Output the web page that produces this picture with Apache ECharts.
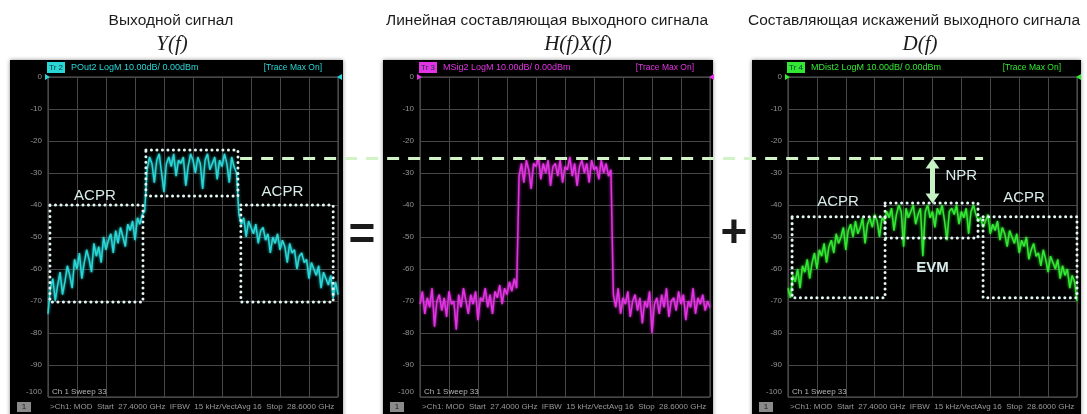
<!DOCTYPE html>
<html><head><meta charset="utf-8">
<script src="https://cdn.jsdelivr.net/npm/echarts@6/dist/echarts.min.js"></script>
<style>html,body{margin:0;padding:0;background:#fff}#c{width:1087px;height:414px}</style>
</head><body><div id="c"></div>
<script>
// ---------- text ----------
const panelTitles = ['Выходной сигнал', 'Линейная составляющая выходного сигнала', 'Составляющая искажений выходного сигнала'];
const panelFormulas = ['Y(f)', 'H(f)X(f)', 'D(f)'];
const traceTags = ['Tr 2', 'Tr 3', 'Tr 4'];
const traceLabels = ['POut2 LogM 10.00dB/ 0.00dBm', 'MSig2 LogM 10.00dB/ 0.00dBm', 'MDist2 LogM 10.00dB/ 0.00dBm'];
const traceMaxLabel = '[Trace Max On]';
const sweepLabel = 'Ch 1 Sweep 33';
const statusLabel = '>Ch1: MOD  Start  27.4000 GHz  IFBW  15 kHz/VectAvg 16  Stop  28.6000 GHz';
const yTicks = [0, -10, -20, -30, -40, -50, -60, -70, -80, -90, -100];

// ---------- trace values (dBm), 121 points across 27.4 … 28.6 GHz ----------
const yOutput = [
  -74,-66,-63,-70,-65,-61,-68,-64,-59,-62,-66,-57,-60,-55,-63,-58,-54,-57,-61,-52,-56,
  -53,-58,-50,-54,-51,-49,-55,-48,-52,-47,-50,-53,-46,-48,-45,-51,-44,-46,-43,-42,
  -29,-25,-27,-33,-26,-24,-30,-36,-27,-25,-28,-24,-31,-26,-27,-25,-34,-28,-24,-26,
  -30,-25,-27,-35,-26,-24,-29,-27,-25,-32,-26,-28,-24,-27,-33,-25,-28,-30,
  -43,-46,-44,-50,-45,-47,-49,-46,-52,-48,-47,-51,-49,-55,-50,-52,-49,-54,-51,-53,-58,
  -52,-55,-54,-60,-56,-55,-58,-57,-63,-58,-60,-62,-59,-66,-61,-63,-65,-62,-69,-64,-68
];
const yLinear = [
  -71,-67,-74,-69,-72,-66,-78,-70,-68,-73,-69,-75,-67,-71,-70,-79,-68,-72,-66,-70,-74,
  -68,-71,-67,-76,-69,-70,-66,-72,-68,-74,-67,-69,-65,-71,-66,-68,-64,-67,-63,-66,
  -31,-27,-33,-26,-29,-35,-27,-28,-25,-32,-27,-30,-26,-34,-28,-27,-31,-26,-33,-28,
  -29,-25,-31,-27,-34,-28,-26,-30,-27,-33,-26,-29,-28,-32,-26,-30,-27,-31,-29,
  -68,-72,-66,-74,-69,-71,-67,-75,-70,-68,-73,-69,-77,-70,-72,-67,-80,-71,-69,-74,
  -68,-72,-66,-75,-70,-69,-73,-67,-71,-68,-76,-70,-72,-66,-74,-69,-71,-68,-73,-70,-72
];
const yDistortion = [
  -66,-69,-62,-64,-60,-66,-59,-61,-57,-63,-58,-55,-60,-54,-56,-52,-58,-53,-51,-55,-49,
  -52,-50,-47,-54,-48,-46,-50,-45,-49,-47,-44,-52,-46,-44,-47,-43,-45,-50,-44,-45,
  -42,-44,-41,-48,-43,-40,-42,-53,-41,-44,-42,-40,-46,-43,-41,-56,-42,-40,-44,-42,
  -47,-41,-43,-40,-45,-51,-42,-41,-43,-40,-46,-42,-44,-41,-49,-42,-40,-43,-45,
  -44,-47,-45,-43,-49,-46,-48,-45,-51,-47,-49,-53,-48,-50,-52,-49,-55,-51,-53,-50,-57,
  -54,-52,-56,-55,-59,-54,-57,-61,-56,-58,-60,-57,-63,-59,-62,-60,-66,-62,-64,-70
];

// ---------- annotations (in data units: point index, dBm) ----------
const nprLevel = -25.5;
const nprLineFrom = 79.5;   // index in panel 1
const nprLineTo = 81;       // index in panel 3
const nprArrowX = 60;       // index in panel 3
const nprArrowBottom = -39.5;
const boxesOutput = [[0.8, -40, 39.3, -70.3], [40.5, -22.8, 78.6, -37.2], [79.8, -40, 118, -70.3]];
const boxesDistortion = [[1.7, -43.7, 40.3, -69], [40.3, -39.4, 78.9, -50.3], [81, -43.7, 120, -69]];
const labelsOutput = [['ACPR', 19.4, -37.2], ['ACPR', 97, -36]];
const labelsDistortion = [['ACPR', 20.8, -39], ['ACPR', 98, -37.8]];
const evmLabel = ['EVM', 60, -59.7];

// ---------- layout ----------
const panels = [
  { bx: 10,  bw: 333, gl: 48,  gw: 290, color: '#2ad6d6', data: yOutput },
  { bx: 383, bw: 330, gl: 420, gw: 290, color: '#e433e4', data: yLinear },
  { bx: 752, bw: 329, gl: 788, gw: 289, color: '#33e833', data: yDistortion }
];
const GT = 77, GB = 397;
const titleCenters = [171, 547, 914];
const formulaCenters = [172, 578, 920];

const chart = echarts.init(document.getElementById('c'), null, { renderer: 'canvas' });

const grids = [], xAxes = [], yAxes = [], series = [];
panels.forEach((p, i) => {
  grids.push({ left: p.gl, top: GT, width: p.gw, height: GB - GT, show: true, borderColor: '#5e5e5e', borderWidth: 1, backgroundColor: 'transparent' });
  xAxes.push({ type: 'value', gridIndex: i, min: 0, max: 120, interval: 12,
    axisLine: { show: false }, axisTick: { show: false }, axisLabel: { show: false },
    splitLine: { show: true, lineStyle: { color: '#474747', width: 1 } } });
  yAxes.push({ type: 'value', gridIndex: i, min: -100, max: 0, interval: 10,
    axisLine: { show: false }, axisTick: { show: false },
    axisLabel: { color: '#959595', fontSize: 8, fontFamily: 'Liberation Sans', margin: 6,
      formatter: v => (yTicks.indexOf(v) < 0 ? '' : (v === -100 ? '{b|' + v + '}' : String(v))),
      rich: { b: { color: '#959595', fontSize: 8, fontFamily: 'Liberation Sans', padding: [0, 0, 10, 0] } } },
    splitLine: { show: true, lineStyle: { color: '#474747', width: 1 } } });
  series.push({ type: 'line', xAxisIndex: i, yAxisIndex: i, symbol: 'none', animation: false,
    data: p.data.map((v, k) => [k, v]),
    lineStyle: { color: p.color, width: 1.5, shadowBlur: 3, shadowColor: p.color }, z: 3 });
});

chart.setOption({ animation: false, backgroundColor: '#ffffff', grid: grids, xAxis: xAxes, yAxis: yAxes, series: series });

// ---------- overlays ----------
const px = (g, x, y) => chart.convertToPixel({ gridIndex: g }, [x, y]);
const G = [];
const dotStyle = { fill: 'none', stroke: '#e4f6f4', lineWidth: 3, lineDash: [0.1, 5.4], lineCap: 'round' };
const annTextStyle = { fill: '#d8ecea', font: '15px "Liberation Sans"', align: 'center', verticalAlign: 'middle' };

panels.forEach((p, i) => {
  G.push({ type: 'rect', z: -10, shape: { x: p.bx, y: 60, width: p.bw, height: 360 },
    style: { fill: '#000', shadowBlur: 4, shadowColor: 'rgba(0,0,0,0.45)' } });
  G.push({ type: 'text', z: 10, x: titleCenters[i], y: 21, style: { text: panelTitles[i], fill: '#1c1c1c',
    font: '15.5px "Liberation Sans"', align: 'center', verticalAlign: 'middle' } });
  G.push({ type: 'text', z: 10, x: formulaCenters[i], y: 44, style: { text: panelFormulas[i], fill: '#1c1c1c',
    font: 'italic 21px "Liberation Serif"', align: 'center', verticalAlign: 'middle' } });
  G.push({ type: 'rect', z: 10, shape: { x: p.gl - 1, y: 62, width: 18, height: 11 }, style: { fill: p.color } });
  G.push({ type: 'text', z: 11, x: p.gl + 8, y: 68, style: { text: traceTags[i], fill: '#0a3a3a',
    font: '8px "Liberation Sans"', align: 'center', verticalAlign: 'middle' } });
  G.push({ type: 'text', z: 10, x: p.gl + 23, y: 68, style: { text: traceLabels[i], fill: p.color,
    font: '9px "Liberation Sans"', align: 'left', verticalAlign: 'middle' } });
  G.push({ type: 'text', z: 10, x: p.gl + p.gw - 16, y: 68, style: { text: traceMaxLabel, fill: p.color,
    font: '8.5px "Liberation Sans"', align: 'right', verticalAlign: 'middle' } });
  G.push({ type: 'polygon', z: 10, shape: { points: [[p.gl - 3, GT - 3], [p.gl + 2, GT], [p.gl - 3, GT + 3]] }, style: { fill: p.color } });
  G.push({ type: 'polygon', z: 10, shape: { points: [[p.gl + p.gw + 4, GT - 3], [p.gl + p.gw - 1, GT], [p.gl + p.gw + 4, GT + 3]] }, style: { fill: p.color } });
  G.push({ type: 'text', z: 10, x: p.gl + 4, y: GB - 5, style: { text: sweepLabel, fill: '#b4b4b4',
    font: '8px "Liberation Sans"', align: 'left', verticalAlign: 'middle' } });
  G.push({ type: 'rect', z: 10, shape: { x: p.bx + 7, y: 402, width: 14, height: 10 }, style: { fill: '#8a8a8a' } });
  G.push({ type: 'text', z: 11, x: p.bx + 14, y: 407, style: { text: '1', fill: '#222',
    font: '8px "Liberation Sans"', align: 'center', verticalAlign: 'middle' } });
  G.push({ type: 'text', z: 10, x: p.gl + 2, y: 407, style: { text: statusLabel, fill: '#9a9a9a',
    font: '8px "Liberation Sans"', align: 'left', verticalAlign: 'middle' } });
});

G.push({ type: 'text', z: 10, x: 362, y: 236, style: { text: '=', fill: '#1a1a1a', font: 'bold 46px "Liberation Sans"', align: 'center', verticalAlign: 'middle' } });
G.push({ type: 'text', z: 10, x: 734, y: 234, style: { text: '+', fill: '#1a1a1a', font: 'bold 46px "Liberation Sans"', align: 'center', verticalAlign: 'middle' } });

function addBoxes(g, boxes) {
  boxes.forEach(b => {
    const a = px(g, b[0], b[1]), c = px(g, b[2], b[3]);
    G.push({ type: 'rect', z: 20, shape: { x: a[0], y: a[1], width: c[0] - a[0], height: c[1] - a[1] }, style: dotStyle });
  });
}
addBoxes(0, boxesOutput);
addBoxes(2, boxesDistortion);
function addLabels(g, labels, bold) {
  labels.forEach(l => {
    const a = px(g, l[1], l[2]);
    G.push({ type: 'text', z: 21, x: a[0], y: a[1], style: Object.assign({}, annTextStyle, { text: l[0],
      font: (bold ? 'bold ' : '') + '15px "Liberation Sans"' }) });
  });
}
addLabels(0, labelsOutput, false);
addLabels(2, labelsDistortion, false);
addLabels(2, [evmLabel], true);

const d1 = px(0, nprLineFrom, nprLevel), d2 = px(2, nprLineTo, nprLevel);
G.push({ type: 'line', z: 19, shape: { x1: d1[0], y1: d1[1], x2: d2[0], y2: d2[1] },
  style: { stroke: '#d2f2c8', lineWidth: 3, lineDash: [12, 9] } });
const a1 = px(2, nprArrowX, nprLevel), a2 = px(2, nprArrowX, nprArrowBottom);
const ac = '#c6f2c6';
G.push({ type: 'line', z: 22, shape: { x1: a1[0], y1: a1[1] + 8, x2: a2[0], y2: a2[1] - 8 }, style: { stroke: ac, lineWidth: 5 } });
G.push({ type: 'polygon', z: 22, shape: { points: [[a1[0], a1[1]], [a1[0] - 7, a1[1] + 10], [a1[0] + 7, a1[1] + 10]] }, style: { fill: ac } });
G.push({ type: 'polygon', z: 22, shape: { points: [[a2[0], a2[1]], [a2[0] - 7, a2[1] - 10], [a2[0] + 7, a2[1] - 10]] }, style: { fill: ac } });
G.push({ type: 'text', z: 22, x: a1[0] + 13, y: (a1[1] + a2[1]) / 2 - 5, style: Object.assign({}, annTextStyle, { text: 'NPR', align: 'left' }) });

chart.setOption({ graphic: { elements: G } });
</script>
</body></html>
